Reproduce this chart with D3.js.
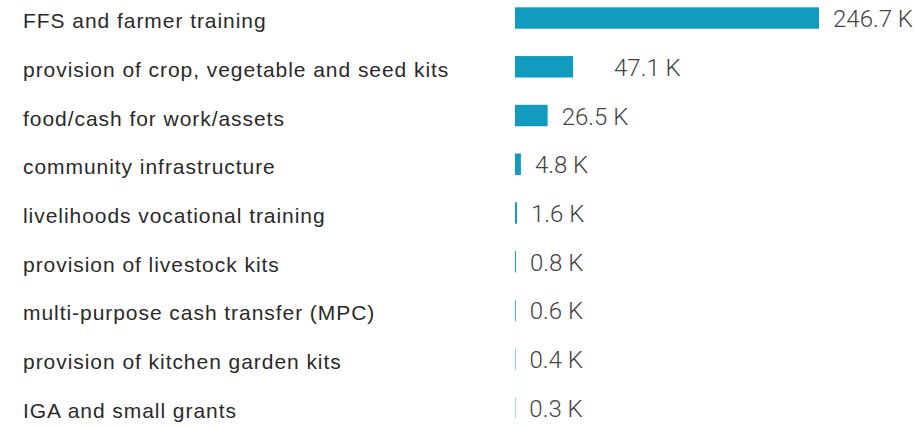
<!DOCTYPE html>
<html>
<head>
<meta charset="utf-8">
<script src="https://cdn.jsdelivr.net/npm/d3@7"></script>
<style>
  body { margin: 0; background: #fff; }
  text { font-family: Roboto, "Open Sans", sans-serif; }
  text.cat { font-family: "Liberation Sans", Arial, sans-serif; letter-spacing: 0.95px; }
</style>
</head>
<body>
<script>
// activities and beneficiaries (thousands)
const activities = [
  "FFS and farmer training",
  "provision of crop, vegetable and seed kits",
  "food/cash for work/assets",
  "community infrastructure",
  "livelihoods vocational training",
  "provision of livestock kits",
  "multi-purpose cash transfer (MPC)",
  "provision of kitchen garden kits",
  "IGA and small grants"
];
const beneficiaries = [246.7, 47.1, 26.5, 4.8, 1.6, 0.8, 0.6, 0.4, 0.3];

const size_graph = {x: 919, y: 426};
const barLeft = 515, barRight = 819;
const labelGap = 14;
// the 47.1 K label sits further out in the original
const labelNudge = {"provision of crop, vegetable and seed kits": 27};

const data = activities.map((a, i) => ({name: a, value: beneficiaries[i]}));

const svg = d3.select("body").append("svg")
  .attr("width", size_graph.x)
  .attr("height", size_graph.y);

const x = d3.scaleLinear()
  .domain([0, d3.max(beneficiaries)])
  .range([barLeft, barRight]);

const y = d3.scaleBand()
  .domain(activities)
  .range([0, size_graph.y])
  .paddingInner(0.56)
  .paddingOuter(0.15);

// bars
svg.selectAll(".bar")
  .data(data)
  .enter()
  .append("rect")
  .attr("class", "bar")
  .attr("x", x(0))
  .attr("y", d => y(d.name))
  .attr("width", d => x(d.value) - x(0))
  .attr("height", y.bandwidth())
  .attr("fill", "#119cbf");

// category labels
svg.selectAll(".cat")
  .data(data)
  .enter()
  .append("text")
  .attr("class", "cat")
  .attr("x", 23)
  .attr("y", d => y(d.name) + y.bandwidth() / 2 + 2.5)
  .attr("dominant-baseline", "central")
  .attr("font-size", 21)
  .attr("fill", "#2a2a2a")
  .text(d => d.name);

// value labels
svg.selectAll(".val")
  .data(data)
  .enter()
  .append("text")
  .attr("class", "val")
  .attr("x", d => x(d.value) + labelGap + (labelNudge[d.name] || 0))
  .attr("y", d => y(d.name) + y.bandwidth() / 2 + 1)
  .attr("dominant-baseline", "central")
  .attr("font-size", 24)
  .attr("font-weight", 300)
  .attr("fill", "#444")
  .text(d => d3.format(".1f")(d.value) + " K");
</script>
</body>
</html>
